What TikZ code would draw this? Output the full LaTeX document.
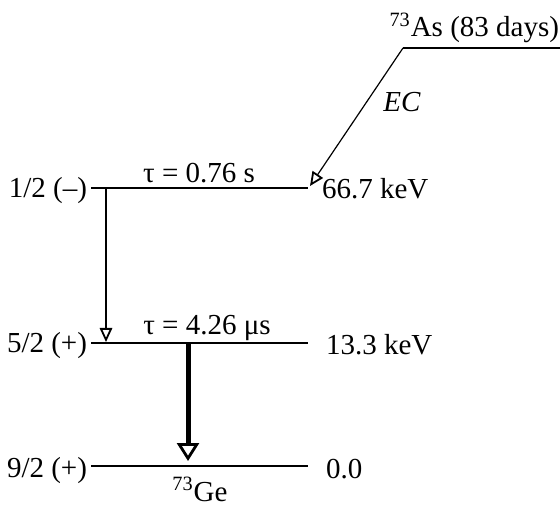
\documentclass[tikz,border=0pt]{standalone}
\usepackage{fontspec}
\setmainfont{Liberation Serif}
\usetikzlibrary{arrows.meta}
\begin{document}
\begin{tikzpicture}[x=0.5pt,y=-0.5pt,
  every node/.style={inner sep=0pt,outer sep=0pt,font=\fontsize{14.5}{16}\selectfont},
  level/.style={line width=1.2pt},
  thinarrow/.style={line width=0.6pt,-{Triangle[open,length=7pt,width=6.2pt,line width=0.9pt]}},
  thickarrow/.style={line width=2.5pt,-{Triangle[open,length=9pt,width=11pt,line width=1.4pt]}}]
\useasboundingbox (0,0) rectangle (560,506);
% levels
\coordinate (asL) at (403,48);  \coordinate (asR) at (562,48);
\coordinate (aL) at (91,188);   \coordinate (aR) at (308,188);
\coordinate (bL) at (91,343);   \coordinate (bR) at (308,343);
\coordinate (cL) at (91,466);   \coordinate (cR) at (308,466);
\draw[level] (asL) -- (asR);
\draw[level] (aL) -- (aR);
\draw[level] (bL) -- (bR);
\draw[level] (cL) -- (cR);
% labels
\node[anchor=base east] (as) at (559,37) {\textsuperscript{73}As (83 days)};
\node[anchor=base] (ec) at (402,112) {\textit{EC}};
\node[anchor=base east] (ja) at (87,198) {1/2 (\textendash)};
\node[anchor=base east] (jb) at (87,353) {5/2 (+)};
\node[anchor=base east] (jc) at (87,477) {9/2 (+)};
\node[anchor=base west] (ea) at (322,199) {66.7 keV};
\node[anchor=base west] (eb) at (326,355) {13.3 keV};
\node[anchor=base west] (ec0) at (326,478) {0.0};
\node[anchor=base] (ta) at (199,183) {τ = 0.76 s};
\node[anchor=base] (tb) at (207,335) {τ = 4.26 μs};
\node[anchor=base] (ge) at (200,501) {\textsuperscript{73}Ge};
% transitions
\coordinate (ecEnd) at (310,186);
\coordinate (gA) at (106,189);
\coordinate (gAend) at (106,342);
\coordinate (gB) at (188,343);
\coordinate (gBend) at (188,461);
\draw[thinarrow] (asL) -- (ecEnd);
\draw[thinarrow] (gA) -- (gAend);
\draw[thickarrow] (gB) -- (gBend);
\end{tikzpicture}
\end{document}
